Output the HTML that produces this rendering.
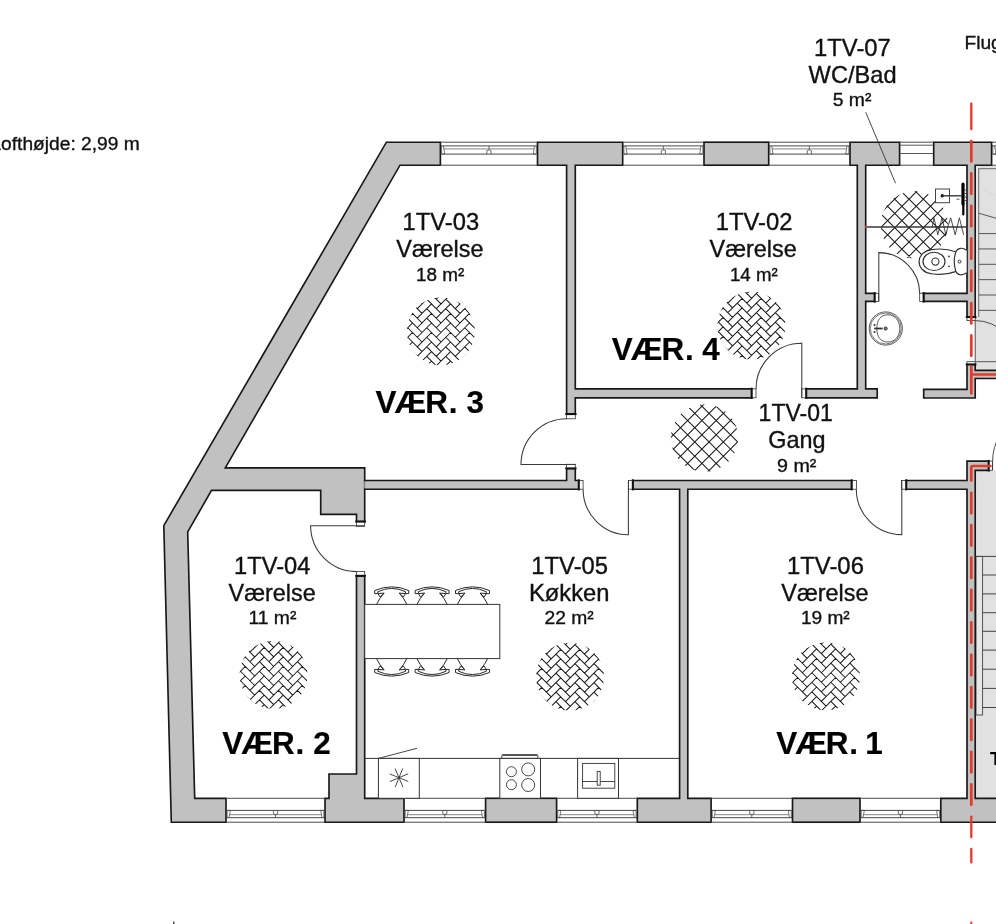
<!DOCTYPE html>
<html lang="da"><head><meta charset="utf-8"><title>Plantegning 1TV</title>
<style>
html,body{margin:0;padding:0;background:#fff;}
body{width:996px;height:924px;overflow:hidden;}
svg{display:block;will-change:transform;}
text{font-family:"Liberation Sans",sans-serif;fill:#111;stroke:#111;stroke-width:0.35px;}
text.b{font-weight:bold;fill:#000;stroke:#000;stroke-width:0.2px;}
</style></head><body>
<svg width="996" height="924" viewBox="0 0 996 924">
<rect width="996" height="924" fill="#fff"/>
<g id="stair-zone">
<rect x="975.2" y="166" width="24.8" height="204.3" fill="#e1e1e1"/>
<rect x="975.2" y="470.3" width="24.8" height="328" fill="#e1e1e1"/>
<rect x="975.6" y="166" width="2.7" height="151" fill="#ececec"/>
<line x1="978.7" y1="168.7" x2="978.7" y2="317" stroke="#6a6a6a" stroke-width="1" />
<line x1="978.2" y1="168.7" x2="1000" y2="168.7" stroke="#6a6a6a" stroke-width="1" />
<line x1="978.7" y1="213.2" x2="1000" y2="219.4" stroke="#555" stroke-width="1" />
<line x1="983.7" y1="188.6" x2="996" y2="196.8" stroke="#cfcfcf" stroke-width="0.9" stroke-dasharray="4 3"/>
<line x1="978.7" y1="233.6" x2="1000" y2="233.6" stroke="#555" stroke-width="1" />
<line x1="978.7" y1="248.95" x2="1000" y2="248.95" stroke="#555" stroke-width="1" />
<line x1="978.7" y1="264.3" x2="1000" y2="264.3" stroke="#555" stroke-width="1" />
<line x1="978.7" y1="279.65" x2="1000" y2="279.65" stroke="#555" stroke-width="1" />
<line x1="978.7" y1="295" x2="1000" y2="295" stroke="#555" stroke-width="1" />
<line x1="978.7" y1="310.35" x2="1000" y2="310.35" stroke="#555" stroke-width="1" />
<line x1="975.2" y1="361.7" x2="1000" y2="361.7" stroke="#555" stroke-width="1" />
<rect x="976" y="556.4" width="6.6" height="158.6" fill="#e6e6e6" stroke="#444" stroke-width="0.9"/>
<line x1="976" y1="556.4" x2="1000" y2="556.4" stroke="#444" stroke-width="1" />
<line x1="982.6" y1="575" x2="1000" y2="575" stroke="#444" stroke-width="1" />
<line x1="982.6" y1="593.9" x2="1000" y2="593.9" stroke="#444" stroke-width="1" />
<line x1="982.6" y1="612.7" x2="1000" y2="612.7" stroke="#444" stroke-width="1" />
<line x1="982.6" y1="631.3" x2="1000" y2="631.3" stroke="#444" stroke-width="1" />
<line x1="982.6" y1="650.1" x2="1000" y2="650.1" stroke="#444" stroke-width="1" />
<line x1="982.6" y1="669.2" x2="1000" y2="669.2" stroke="#444" stroke-width="1" />
<line x1="982.6" y1="688.4" x2="1000" y2="688.4" stroke="#444" stroke-width="1" />
<line x1="982.6" y1="707.5" x2="1000" y2="707.5" stroke="#444" stroke-width="1" />
</g>
<g id="walls">
<path d="M440.4,142.2 L386.4,142.2 L163.8,525.6 L171.3,822.2 L226,822.2 L226,798.3 L194.7,798.3 L187.7,531.9 L211.5,490.4 L320.7,490.4 L320.7,514.3 L356.5,514.3 L356.5,521.6 L364.7,521.6 L364.7,489.2 L578.8,489.2 L578.8,480.5 L575.3,480.5 L575.3,468.4 L566.6,468.4 L566.6,480.5 L364.7,480.5 L364.7,467.9 L225.3,467.9 L400,165.2 L440.4,165.2 Z" fill="#c1c1c1" stroke="#181818" stroke-width="1.65" stroke-linejoin="miter" />
<line x1="364.7" y1="480.5" x2="364.7" y2="489.2" stroke="#181818" stroke-width="1.65" />
<rect x="364.4" y="481.4" width="1.5" height="6.9" fill="#c1c1c1"/>
<rect x="704" y="142.2" width="64.7" height="23" fill="#c1c1c1" stroke="#181818" stroke-width="1.65"/>
<path d="M537.5,142.2 L622.7,142.2 L622.7,165.2 L575.3,165.2 L575.3,388.9 L751.7,388.9 L751.7,397.8 L575.3,397.8 L575.3,414.1 L566.6,414.1 L566.6,165.2 L537.5,165.2 Z" fill="#c1c1c1" stroke="#181818" stroke-width="1.65" stroke-linejoin="miter" />
<path d="M850,142.2 L899.6,142.2 L899.6,165.2 L865.7,165.2 L865.7,293.3 L874.7,293.3 L874.7,301.4 L865.7,301.4 L865.7,388.9 L877.2,388.9 L877.2,397.8 L806.2,397.8 L806.2,388.9 L857.3,388.9 L857.3,165.2 L850,165.2 Z" fill="#c1c1c1" stroke="#181818" stroke-width="1.65" stroke-linejoin="miter" />
<path d="M933.7,142.2 L991.6,142.2 L991.6,165.2 L975.2,165.2 L975.2,317.1 L967,317.1 L967,301.4 L923.6,301.4 L923.6,293.3 L967,293.3 L967,165.2 L933.7,165.2 Z" fill="#c1c1c1" stroke="#181818" stroke-width="1.65" stroke-linejoin="miter" />
<path d="M967,364.4 L967,389.3 L923.7,389.3 L923.7,398 L975.2,398 L975.2,378.5 L1000,378.5 L1000,370.3 L975.2,370.3 L975.2,364.4 Z" fill="#c1c1c1" stroke="#181818" stroke-width="1.65" stroke-linejoin="miter" />
<rect x="485.6" y="798.3" width="71" height="23.9" fill="#c1c1c1" stroke="#181818" stroke-width="1.65"/>
<rect x="792.5" y="798.3" width="67.5" height="23.9" fill="#c1c1c1" stroke="#181818" stroke-width="1.65"/>
<path d="M325,822.2 L325,798.3 L329,798.3 L329,774 L356.5,774 L356.5,575.8 L364.7,575.8 L364.7,798.3 L404,798.3 L404,822.2 Z" fill="#c1c1c1" stroke="#181818" stroke-width="1.65" stroke-linejoin="miter" />
<path d="M637.3,822.2 L637.3,798.3 L679.6,798.3 L679.6,489.2 L632.8,489.2 L632.8,480.5 L851.7,480.5 L851.7,489.2 L687.8,489.2 L687.8,798.3 L711.1,798.3 L711.1,822.2 Z" fill="#c1c1c1" stroke="#181818" stroke-width="1.65" stroke-linejoin="miter" />
<path d="M940.8,822.2 L940.8,798.3 L967,798.3 L967,489.2 L906.2,489.2 L906.2,480.5 L967,480.5 L967,461.1 L988.7,461.1 L988.7,470.3 L975.2,470.3 L975.2,798.3 L1000,798.3 L1000,822.2 Z" fill="#c1c1c1" stroke="#181818" stroke-width="1.65" stroke-linejoin="miter" />
</g>
<g id="windows">
<line x1="440.4" y1="142.2" x2="537.5" y2="142.2" stroke="#4a4a4a" stroke-width="1" />
<line x1="440.4" y1="165.2" x2="537.5" y2="165.2" stroke="#4a4a4a" stroke-width="1" />
<line x1="440.4" y1="145.9" x2="537.5" y2="145.9" stroke="#333" stroke-width="0.9" />
<line x1="443.9" y1="148.9" x2="534" y2="148.9" stroke="#666" stroke-width="0.8" />
<line x1="441.6" y1="154.1" x2="536.3" y2="154.1" stroke="#333" stroke-width="0.9" />
<path d="M441.6,145.9 L441.6,154.1 L444.7,154.1 L443.4,145.9" fill="none" stroke="#444" stroke-width="0.7" />
<path d="M536.3,145.9 L536.3,154.1 L533.2,154.1 L534.5,145.9" fill="none" stroke="#444" stroke-width="0.7" />
<path d="M488.95,145.9 L488.95,149.3 M486.85,154.1 L486.85,150.7 Q488.95,148.9 491.05,150.7 L491.05,154.1" fill="none" stroke="#333" stroke-width="0.7" />
<line x1="622.7" y1="142.2" x2="704" y2="142.2" stroke="#4a4a4a" stroke-width="1" />
<line x1="622.7" y1="165.2" x2="704" y2="165.2" stroke="#4a4a4a" stroke-width="1" />
<line x1="622.7" y1="145.9" x2="704" y2="145.9" stroke="#333" stroke-width="0.9" />
<line x1="626.2" y1="148.9" x2="700.5" y2="148.9" stroke="#666" stroke-width="0.8" />
<line x1="623.9" y1="154.1" x2="702.8" y2="154.1" stroke="#333" stroke-width="0.9" />
<path d="M623.9,145.9 L623.9,154.1 L627,154.1 L625.7,145.9" fill="none" stroke="#444" stroke-width="0.7" />
<path d="M702.8,145.9 L702.8,154.1 L699.7,154.1 L701,145.9" fill="none" stroke="#444" stroke-width="0.7" />
<path d="M663.35,145.9 L663.35,149.3 M661.25,154.1 L661.25,150.7 Q663.35,148.9 665.45,150.7 L665.45,154.1" fill="none" stroke="#333" stroke-width="0.7" />
<line x1="768.7" y1="142.2" x2="850" y2="142.2" stroke="#4a4a4a" stroke-width="1" />
<line x1="768.7" y1="165.2" x2="850" y2="165.2" stroke="#4a4a4a" stroke-width="1" />
<line x1="768.7" y1="145.9" x2="850" y2="145.9" stroke="#333" stroke-width="0.9" />
<line x1="772.2" y1="148.9" x2="846.5" y2="148.9" stroke="#666" stroke-width="0.8" />
<line x1="769.9" y1="154.1" x2="848.8" y2="154.1" stroke="#333" stroke-width="0.9" />
<path d="M769.9,145.9 L769.9,154.1 L773,154.1 L771.7,145.9" fill="none" stroke="#444" stroke-width="0.7" />
<path d="M848.8,145.9 L848.8,154.1 L845.7,154.1 L847,145.9" fill="none" stroke="#444" stroke-width="0.7" />
<path d="M809.35,145.9 L809.35,149.3 M807.25,154.1 L807.25,150.7 Q809.35,148.9 811.45,150.7 L811.45,154.1" fill="none" stroke="#333" stroke-width="0.7" />
<line x1="991.6" y1="142.2" x2="1060" y2="142.2" stroke="#4a4a4a" stroke-width="1" />
<line x1="991.6" y1="165.2" x2="1060" y2="165.2" stroke="#4a4a4a" stroke-width="1" />
<line x1="991.6" y1="145.9" x2="1060" y2="145.9" stroke="#333" stroke-width="0.9" />
<line x1="995.1" y1="148.9" x2="1056.5" y2="148.9" stroke="#666" stroke-width="0.8" />
<line x1="992.8" y1="154.1" x2="1058.8" y2="154.1" stroke="#333" stroke-width="0.9" />
<path d="M992.8,145.9 L992.8,154.1 L995.9,154.1 L994.6,145.9" fill="none" stroke="#444" stroke-width="0.7" />
<path d="M1058.8,145.9 L1058.8,154.1 L1055.7,154.1 L1057,145.9" fill="none" stroke="#444" stroke-width="0.7" />
<path d="M1025.8,145.9 L1025.8,149.3 M1023.7,154.1 L1023.7,150.7 Q1025.8,148.9 1027.9,150.7 L1027.9,154.1" fill="none" stroke="#333" stroke-width="0.7" />
<line x1="899.6" y1="142.2" x2="933.7" y2="142.2" stroke="#4a4a4a" stroke-width="1" />
<line x1="899.6" y1="165.2" x2="933.7" y2="165.2" stroke="#4a4a4a" stroke-width="1" />
<line x1="899.6" y1="145.2" x2="933.7" y2="145.2" stroke="#444" stroke-width="0.9" />
<line x1="899.6" y1="153.5" x2="933.7" y2="153.5" stroke="#444" stroke-width="0.9" />
<line x1="226" y1="822.2" x2="325" y2="822.2" stroke="#4a4a4a" stroke-width="1" />
<line x1="226" y1="798.3" x2="325" y2="798.3" stroke="#4a4a4a" stroke-width="1" />
<line x1="226" y1="817.7" x2="325" y2="817.7" stroke="#333" stroke-width="0.9" />
<line x1="229.5" y1="814.7" x2="321.5" y2="814.7" stroke="#666" stroke-width="0.8" />
<line x1="227.2" y1="810.4" x2="323.8" y2="810.4" stroke="#333" stroke-width="0.9" />
<path d="M227.2,817.7 L227.2,810.4 L230.3,810.4 L229,817.7" fill="none" stroke="#444" stroke-width="0.7" />
<path d="M323.8,817.7 L323.8,810.4 L320.7,810.4 L322,817.7" fill="none" stroke="#444" stroke-width="0.7" />
<path d="M275.5,817.7 L275.5,814.3 M273.4,810.4 L273.4,813.8 Q275.5,815.6 277.6,813.8 L277.6,810.4" fill="none" stroke="#333" stroke-width="0.7" />
<line x1="404" y1="822.2" x2="485.6" y2="822.2" stroke="#4a4a4a" stroke-width="1" />
<line x1="404" y1="798.3" x2="485.6" y2="798.3" stroke="#4a4a4a" stroke-width="1" />
<line x1="404" y1="817.7" x2="485.6" y2="817.7" stroke="#333" stroke-width="0.9" />
<line x1="407.5" y1="814.7" x2="482.1" y2="814.7" stroke="#666" stroke-width="0.8" />
<line x1="405.2" y1="810.4" x2="484.4" y2="810.4" stroke="#333" stroke-width="0.9" />
<path d="M405.2,817.7 L405.2,810.4 L408.3,810.4 L407,817.7" fill="none" stroke="#444" stroke-width="0.7" />
<path d="M484.4,817.7 L484.4,810.4 L481.3,810.4 L482.6,817.7" fill="none" stroke="#444" stroke-width="0.7" />
<path d="M444.8,817.7 L444.8,814.3 M442.7,810.4 L442.7,813.8 Q444.8,815.6 446.9,813.8 L446.9,810.4" fill="none" stroke="#333" stroke-width="0.7" />
<line x1="556.6" y1="822.2" x2="637.3" y2="822.2" stroke="#4a4a4a" stroke-width="1" />
<line x1="556.6" y1="798.3" x2="637.3" y2="798.3" stroke="#4a4a4a" stroke-width="1" />
<line x1="556.6" y1="817.7" x2="637.3" y2="817.7" stroke="#333" stroke-width="0.9" />
<line x1="560.1" y1="814.7" x2="633.8" y2="814.7" stroke="#666" stroke-width="0.8" />
<line x1="557.8" y1="810.4" x2="636.1" y2="810.4" stroke="#333" stroke-width="0.9" />
<path d="M557.8,817.7 L557.8,810.4 L560.9,810.4 L559.6,817.7" fill="none" stroke="#444" stroke-width="0.7" />
<path d="M636.1,817.7 L636.1,810.4 L633,810.4 L634.3,817.7" fill="none" stroke="#444" stroke-width="0.7" />
<path d="M596.95,817.7 L596.95,814.3 M594.85,810.4 L594.85,813.8 Q596.95,815.6 599.05,813.8 L599.05,810.4" fill="none" stroke="#333" stroke-width="0.7" />
<line x1="711.1" y1="822.2" x2="792.5" y2="822.2" stroke="#4a4a4a" stroke-width="1" />
<line x1="711.1" y1="798.3" x2="792.5" y2="798.3" stroke="#4a4a4a" stroke-width="1" />
<line x1="711.1" y1="817.7" x2="792.5" y2="817.7" stroke="#333" stroke-width="0.9" />
<line x1="714.6" y1="814.7" x2="789" y2="814.7" stroke="#666" stroke-width="0.8" />
<line x1="712.3" y1="810.4" x2="791.3" y2="810.4" stroke="#333" stroke-width="0.9" />
<path d="M712.3,817.7 L712.3,810.4 L715.4,810.4 L714.1,817.7" fill="none" stroke="#444" stroke-width="0.7" />
<path d="M791.3,817.7 L791.3,810.4 L788.2,810.4 L789.5,817.7" fill="none" stroke="#444" stroke-width="0.7" />
<path d="M751.8,817.7 L751.8,814.3 M749.7,810.4 L749.7,813.8 Q751.8,815.6 753.9,813.8 L753.9,810.4" fill="none" stroke="#333" stroke-width="0.7" />
<line x1="860" y1="822.2" x2="940.8" y2="822.2" stroke="#4a4a4a" stroke-width="1" />
<line x1="860" y1="798.3" x2="940.8" y2="798.3" stroke="#4a4a4a" stroke-width="1" />
<line x1="860" y1="817.7" x2="940.8" y2="817.7" stroke="#333" stroke-width="0.9" />
<line x1="863.5" y1="814.7" x2="937.3" y2="814.7" stroke="#666" stroke-width="0.8" />
<line x1="861.2" y1="810.4" x2="939.6" y2="810.4" stroke="#333" stroke-width="0.9" />
<path d="M861.2,817.7 L861.2,810.4 L864.3,810.4 L863,817.7" fill="none" stroke="#444" stroke-width="0.7" />
<path d="M939.6,817.7 L939.6,810.4 L936.5,810.4 L937.8,817.7" fill="none" stroke="#444" stroke-width="0.7" />
<path d="M900.4,817.7 L900.4,814.3 M898.3,810.4 L898.3,813.8 Q900.4,815.6 902.5,813.8 L902.5,810.4" fill="none" stroke="#333" stroke-width="0.7" />
</g>
<g id="doors">
<rect x="356.5" y="521.6" width="8.2" height="4.7" fill="#fff" stroke="#333" stroke-width="0.8"/>
<line x1="355.3" y1="521.6" x2="365.9" y2="521.6" stroke="#111" stroke-width="2" />
<rect x="356.5" y="571.6" width="8.2" height="4.2" fill="#fff" stroke="#333" stroke-width="0.8"/>
<line x1="355.3" y1="575.8" x2="365.9" y2="575.8" stroke="#111" stroke-width="2" />
<path d="M364.7,525.8 L310.6,525.8 A46,46 0 0 0 356.5,571.6" fill="none" stroke="#3a3a3a" stroke-width="1.05" />
<rect x="566.6" y="414.1" width="8.7" height="4.7" fill="#fff" stroke="#333" stroke-width="0.8"/>
<line x1="565.4" y1="414.1" x2="576.5" y2="414.1" stroke="#111" stroke-width="2" />
<rect x="566.6" y="464.3" width="8.7" height="4.1" fill="#fff" stroke="#333" stroke-width="0.8"/>
<line x1="565.4" y1="468.4" x2="576.5" y2="468.4" stroke="#111" stroke-width="2" />
<path d="M575.3,464.4 L521,464.4 A45.8,45.8 0 0 1 566.6,418.8" fill="none" stroke="#3a3a3a" stroke-width="1.05" />
<rect x="578.8" y="480.5" width="4.3" height="8.7" fill="#fff" stroke="#333" stroke-width="0.8"/>
<line x1="578.8" y1="479.3" x2="578.8" y2="490.4" stroke="#111" stroke-width="2" />
<rect x="628.4" y="480.5" width="4.4" height="8.7" fill="#fff" stroke="#333" stroke-width="0.8"/>
<line x1="632.8" y1="479.3" x2="632.8" y2="490.4" stroke="#111" stroke-width="2" />
<path d="M628.4,480.5 L628.4,534.8 A45.5,45.5 0 0 1 583.1,489.2" fill="none" stroke="#3a3a3a" stroke-width="1.05" />
<rect x="751.7" y="388.9" width="4.3" height="8.9" fill="#fff" stroke="#333" stroke-width="0.8"/>
<line x1="751.7" y1="387.7" x2="751.7" y2="399" stroke="#111" stroke-width="2" />
<rect x="801.7" y="388.9" width="4.5" height="8.9" fill="#fff" stroke="#333" stroke-width="0.8"/>
<line x1="806.2" y1="387.7" x2="806.2" y2="399" stroke="#111" stroke-width="2" />
<path d="M801.8,397.8 L801.8,343.2 A45.8,45.8 0 0 0 756,388.9" fill="none" stroke="#3a3a3a" stroke-width="1.05" />
<rect x="851.7" y="480.5" width="4.7" height="8.7" fill="#fff" stroke="#333" stroke-width="0.8"/>
<line x1="851.7" y1="479.3" x2="851.7" y2="490.4" stroke="#111" stroke-width="2" />
<rect x="901.6" y="480.5" width="4.6" height="8.7" fill="#fff" stroke="#333" stroke-width="0.8"/>
<line x1="906.2" y1="479.3" x2="906.2" y2="490.4" stroke="#111" stroke-width="2" />
<path d="M901.8,480.5 L901.8,534.6 A45.5,45.5 0 0 1 856.3,489.2" fill="none" stroke="#3a3a3a" stroke-width="1.05" />
<rect x="874.7" y="293.3" width="4" height="8.1" fill="#fff" stroke="#333" stroke-width="0.8"/>
<line x1="874.7" y1="292.1" x2="874.7" y2="302.6" stroke="#111" stroke-width="2" />
<rect x="919.7" y="293.3" width="3.9" height="8.1" fill="#fff" stroke="#333" stroke-width="0.8"/>
<line x1="923.6" y1="292.1" x2="923.6" y2="302.6" stroke="#111" stroke-width="2" />
<path d="M878.8,301.4 L878.8,252.6 A41,41 0 0 1 919.7,293.3" fill="none" stroke="#3a3a3a" stroke-width="1.05" />
<rect x="967" y="317.1" width="8.2" height="3.5" fill="#fff" stroke="#333" stroke-width="0.8"/>
<line x1="965.8" y1="317.1" x2="976.4" y2="317.1" stroke="#111" stroke-width="2" />
<rect x="967" y="361.7" width="8.2" height="2.7" fill="#fff" stroke="#333" stroke-width="0.8"/>
<line x1="965.8" y1="364.4" x2="976.4" y2="364.4" stroke="#111" stroke-width="2" />
<path d="M975.2,361.7 L975.2,320.6 A41.1,41.1 0 0 1 1005,333.6" fill="none" stroke="#3a3a3a" stroke-width="0.9" />
<rect x="988.7" y="461.1" width="3.8" height="9.2" fill="#fff" stroke="#333" stroke-width="0.8"/>
<line x1="988.7" y1="459.9" x2="988.7" y2="471.5" stroke="#111" stroke-width="2" />
<path d="M992.6,470 L992.6,461 Q992.6,448 1000,434" fill="none" stroke="#3a3a3a" stroke-width="0.9" />
</g>
<g id="kitchen">
<rect x="364.7" y="604.4" width="135.1" height="54.2" fill="#fff" stroke="#333" stroke-width="1"/>
<line x1="364.7" y1="758.4" x2="679.6" y2="758.4" stroke="#333" stroke-width="1" />
<rect x="378.4" y="758.4" width="40.9" height="39.9" fill="#fff" stroke="#333" stroke-width="1"/>
<line x1="378.4" y1="758.4" x2="417" y2="748.3" stroke="#333" stroke-width="0.9" />
<line x1="389.73" y1="773.95" x2="408.27" y2="781.45" stroke="#333" stroke-width="0.9" />
<line x1="395.09" y1="768.49" x2="402.91" y2="786.91" stroke="#333" stroke-width="0.9" />
<line x1="402.75" y1="768.43" x2="395.25" y2="786.97" stroke="#333" stroke-width="0.9" />
<line x1="408.21" y1="773.79" x2="389.79" y2="781.61" stroke="#333" stroke-width="0.9" />
<rect x="499.8" y="758.4" width="40.7" height="39.9" fill="#fff" stroke="#333" stroke-width="1"/>
<path d="M501.9,758.4 L501.9,755.6 Q501.9,754.6 503,754.6 L536.8,754.6 Q537.8,754.6 537.8,755.6 L537.8,758.4" fill="none" stroke="#333" stroke-width="0.9" />
<line x1="502.5" y1="755.4" x2="537.3" y2="755.4" stroke="#555" stroke-width="1.3" />
<circle cx="511.4" cy="771.7" r="5" fill="none" stroke="#333" stroke-width="0.9"/>
<circle cx="528.2" cy="769.4" r="6.5" fill="none" stroke="#333" stroke-width="0.9"/>
<circle cx="511.4" cy="784.7" r="5" fill="none" stroke="#333" stroke-width="0.9"/>
<circle cx="528.2" cy="785" r="6.5" fill="none" stroke="#333" stroke-width="0.9"/>
<rect x="577.6" y="758.4" width="40.9" height="39.9" fill="#fff" stroke="#333" stroke-width="1"/>
<rect x="582.6" y="763.4" width="32.2" height="24.8" fill="#fff" stroke="#333" stroke-width="0.9"/>
<line x1="582.6" y1="781.5" x2="614.8" y2="781.5" stroke="#333" stroke-width="0.9" />
<rect x="597.2" y="771.4" width="3" height="13.8" fill="#fff" stroke="#333" stroke-width="0.9"/>
<path d="M377.9,593.6 L374.7,593.6 L374.7,590.5 Q391.7,583.2 408.7,590.5 L408.7,593.6 L405.5,593.6 M377.9,593.6 L377.9,591.7 Q391.7,585.1 405.5,591.7 L405.5,593.6 M377.9,593.6 L384.1,593.1 L380.1,597 Z M405.5,593.6 L399.3,593.1 L403.3,597 Z M384.1,593.1 Q378.9,598.9 376.6,604.4 M399.3,593.1 Q404.5,598.9 406.8,604.4 " fill="none" stroke="#2a2a2a" stroke-width="1" />
<path d="M377.9,669.4 L374.7,669.4 L374.7,672.5 Q391.7,679.8 408.7,672.5 L408.7,669.4 L405.5,669.4 M377.9,669.4 L377.9,671.3 Q391.7,677.9 405.5,671.3 L405.5,669.4 M377.9,669.4 L384.1,669.9 L380.1,666 Z M405.5,669.4 L399.3,669.9 L403.3,666 Z M384.1,669.9 Q378.9,664.1 376.6,658.6 M399.3,669.9 Q404.5,664.1 406.8,658.6 " fill="none" stroke="#2a2a2a" stroke-width="1" />
<path d="M418.3,593.6 L415.1,593.6 L415.1,590.5 Q432.1,583.2 449.1,590.5 L449.1,593.6 L445.9,593.6 M418.3,593.6 L418.3,591.7 Q432.1,585.1 445.9,591.7 L445.9,593.6 M418.3,593.6 L424.5,593.1 L420.5,597 Z M445.9,593.6 L439.7,593.1 L443.7,597 Z M424.5,593.1 Q419.3,598.9 417,604.4 M439.7,593.1 Q444.9,598.9 447.2,604.4 " fill="none" stroke="#2a2a2a" stroke-width="1" />
<path d="M418.3,669.4 L415.1,669.4 L415.1,672.5 Q432.1,679.8 449.1,672.5 L449.1,669.4 L445.9,669.4 M418.3,669.4 L418.3,671.3 Q432.1,677.9 445.9,671.3 L445.9,669.4 M418.3,669.4 L424.5,669.9 L420.5,666 Z M445.9,669.4 L439.7,669.9 L443.7,666 Z M424.5,669.9 Q419.3,664.1 417,658.6 M439.7,669.9 Q444.9,664.1 447.2,658.6 " fill="none" stroke="#2a2a2a" stroke-width="1" />
<path d="M458.7,593.6 L455.5,593.6 L455.5,590.5 Q472.5,583.2 489.5,590.5 L489.5,593.6 L486.3,593.6 M458.7,593.6 L458.7,591.7 Q472.5,585.1 486.3,591.7 L486.3,593.6 M458.7,593.6 L464.9,593.1 L460.9,597 Z M486.3,593.6 L480.1,593.1 L484.1,597 Z M464.9,593.1 Q459.7,598.9 457.4,604.4 M480.1,593.1 Q485.3,598.9 487.6,604.4 " fill="none" stroke="#2a2a2a" stroke-width="1" />
<path d="M458.7,669.4 L455.5,669.4 L455.5,672.5 Q472.5,679.8 489.5,672.5 L489.5,669.4 L486.3,669.4 M458.7,669.4 L458.7,671.3 Q472.5,677.9 486.3,671.3 L486.3,669.4 M458.7,669.4 L464.9,669.9 L460.9,666 Z M486.3,669.4 L480.1,669.9 L484.1,666 Z M464.9,669.9 Q459.7,664.1 457.4,658.6 M480.1,669.9 Q485.3,664.1 487.6,658.6 " fill="none" stroke="#2a2a2a" stroke-width="1" />
</g>
<g id="floor-symbols">
<clipPath id="c1"><circle cx="440.8" cy="331.3" r="34"/></clipPath>
<path d="M464.76,299.24L479.02,313.49M445.76,289.73L460.01,303.99M464.76,308.74L479.02,323M426.75,280.23L441,294.49M445.76,299.24L460.01,313.49M431.5,284.98L417.24,299.24M464.76,318.24L479.02,332.5M412.49,303.99L398.24,318.24M426.75,289.73L441,303.99M445.76,308.74L460.01,323M431.5,294.49L417.24,308.74M464.76,327.75L479.02,342M412.49,313.49L398.24,327.75M426.75,299.24L441,313.49M450.51,284.98L436.25,299.24M445.76,318.24L460.01,332.5M431.5,303.99L417.24,318.24M464.76,337.25L479.02,351.51M412.49,323L398.24,337.25M407.74,289.73L422,303.99M426.75,308.74L441,323M450.51,294.49L436.25,308.74M445.76,327.75L460.01,342M431.5,313.49L417.24,327.75M464.76,346.76L479.02,361.01M412.49,332.5L398.24,346.76M407.74,299.24L422,313.49M469.51,284.98L455.26,299.24M426.75,318.24L441,332.5M450.51,303.99L436.25,318.24M445.76,337.25L460.01,351.51M431.5,323L417.24,337.25M464.76,356.26L479.02,370.51M412.49,342L398.24,356.26M407.74,308.74L422,323M469.51,294.49L455.26,308.74M426.75,327.75L441,342M450.51,313.49L436.25,327.75M445.76,346.76L460.01,361.01M431.5,332.5L417.24,346.76M407.74,318.24L422,332.5M469.51,303.99L455.26,318.24M426.75,337.25L441,351.51M450.51,323L436.25,337.25M445.76,356.26L460.01,370.51M431.5,342L417.24,356.26M407.74,327.75L422,342M469.51,313.49L455.26,327.75M426.75,346.76L441,361.01M450.51,332.5L436.25,346.76M445.76,365.76L460.01,380.02M431.5,351.51L417.24,365.76M407.74,337.25L422,351.51M469.51,323L455.26,337.25M426.75,356.26L441,370.51M450.51,342L436.25,356.26M431.5,361.01L417.24,375.27M488.52,313.49L474.27,327.75M407.74,346.76L422,361.01M469.51,332.5L455.26,346.76M426.75,365.76L441,380.02M450.51,351.51L436.25,365.76M488.52,323L474.27,337.25M407.74,356.26L422,370.51M469.51,342L455.26,356.26M450.51,361.01L436.25,375.27M488.52,332.5L474.27,346.76M469.51,351.51L455.26,365.76M488.52,342L474.27,356.26M469.51,361.01L455.26,375.27" fill="none" stroke="#1a1a1a" stroke-width="1.05" clip-path="url(#c1)"/>
<clipPath id="c2"><circle cx="751.4" cy="325.6" r="34"/></clipPath>
<path d="M775.36,293.54L789.62,307.79M756.36,284.03L770.61,298.29M775.36,303.04L789.62,317.3M737.35,274.53L751.6,288.79M756.36,293.54L770.61,307.79M742.1,279.28L727.84,293.54M775.36,312.54L789.62,326.8M723.09,298.29L708.84,312.54M737.35,284.03L751.6,298.29M756.36,303.04L770.61,317.3M742.1,288.79L727.84,303.04M775.36,322.05L789.62,336.3M723.09,307.79L708.84,322.05M737.35,293.54L751.6,307.79M761.11,279.28L746.85,293.54M756.36,312.54L770.61,326.8M742.1,298.29L727.84,312.54M775.36,331.55L789.62,345.81M723.09,317.3L708.84,331.55M718.34,284.03L732.6,298.29M737.35,303.04L751.6,317.3M761.11,288.79L746.85,303.04M756.36,322.05L770.61,336.3M742.1,307.79L727.84,322.05M775.36,341.06L789.62,355.31M723.09,326.8L708.84,341.06M718.34,293.54L732.6,307.79M780.11,279.28L765.86,293.54M737.35,312.54L751.6,326.8M761.11,298.29L746.85,312.54M756.36,331.55L770.61,345.81M742.1,317.3L727.84,331.55M775.36,350.56L789.62,364.81M723.09,336.3L708.84,350.56M718.34,303.04L732.6,317.3M780.11,288.79L765.86,303.04M737.35,322.05L751.6,336.3M761.11,307.79L746.85,322.05M756.36,341.06L770.61,355.31M742.1,326.8L727.84,341.06M718.34,312.54L732.6,326.8M780.11,298.29L765.86,312.54M737.35,331.55L751.6,345.81M761.11,317.3L746.85,331.55M756.36,350.56L770.61,364.81M742.1,336.3L727.84,350.56M718.34,322.05L732.6,336.3M780.11,307.79L765.86,322.05M737.35,341.06L751.6,355.31M761.11,326.8L746.85,341.06M756.36,360.06L770.61,374.32M742.1,345.81L727.84,360.06M718.34,331.55L732.6,345.81M780.11,317.3L765.86,331.55M737.35,350.56L751.6,364.81M761.11,336.3L746.85,350.56M742.1,355.31L727.84,369.57M799.12,307.79L784.87,322.05M718.34,341.06L732.6,355.31M780.11,326.8L765.86,341.06M737.35,360.06L751.6,374.32M761.11,345.81L746.85,360.06M799.12,317.3L784.87,331.55M718.34,350.56L732.6,364.81M780.11,336.3L765.86,350.56M761.11,355.31L746.85,369.57M799.12,326.8L784.87,341.06M780.11,345.81L765.86,360.06M799.12,336.3L784.87,350.56M780.11,355.31L765.86,369.57" fill="none" stroke="#1a1a1a" stroke-width="1.05" clip-path="url(#c2)"/>
<clipPath id="c3"><circle cx="273.5" cy="674.8" r="34"/></clipPath>
<path d="M297.46,642.74L311.72,656.99M278.46,633.23L292.71,647.49M297.46,652.24L311.72,666.5M259.45,623.73L273.7,637.99M278.46,642.74L292.71,656.99M264.2,628.48L249.94,642.74M297.46,661.74L311.72,676M245.19,647.49L230.94,661.74M259.45,633.23L273.7,647.49M278.46,652.24L292.71,666.5M264.2,637.99L249.94,652.24M297.46,671.25L311.72,685.5M245.19,656.99L230.94,671.25M259.45,642.74L273.7,656.99M283.21,628.48L268.95,642.74M278.46,661.74L292.71,676M264.2,647.49L249.94,661.74M297.46,680.75L311.72,695.01M245.19,666.5L230.94,680.75M240.44,633.23L254.7,647.49M259.45,652.24L273.7,666.5M283.21,637.99L268.95,652.24M278.46,671.25L292.71,685.5M264.2,656.99L249.94,671.25M297.46,690.26L311.72,704.51M245.19,676L230.94,690.26M240.44,642.74L254.7,656.99M302.21,628.48L287.96,642.74M259.45,661.74L273.7,676M283.21,647.49L268.95,661.74M278.46,680.75L292.71,695.01M264.2,666.5L249.94,680.75M297.46,699.76L311.72,714.01M245.19,685.5L230.94,699.76M240.44,652.24L254.7,666.5M302.21,637.99L287.96,652.24M259.45,671.25L273.7,685.5M283.21,656.99L268.95,671.25M278.46,690.26L292.71,704.51M264.2,676L249.94,690.26M240.44,661.74L254.7,676M302.21,647.49L287.96,661.74M259.45,680.75L273.7,695.01M283.21,666.5L268.95,680.75M278.46,699.76L292.71,714.01M264.2,685.5L249.94,699.76M240.44,671.25L254.7,685.5M302.21,656.99L287.96,671.25M259.45,690.26L273.7,704.51M283.21,676L268.95,690.26M278.46,709.26L292.71,723.52M264.2,695.01L249.94,709.26M240.44,680.75L254.7,695.01M302.21,666.5L287.96,680.75M259.45,699.76L273.7,714.01M283.21,685.5L268.95,699.76M264.2,704.51L249.94,718.77M321.22,656.99L306.97,671.25M240.44,690.26L254.7,704.51M302.21,676L287.96,690.26M259.45,709.26L273.7,723.52M283.21,695.01L268.95,709.26M321.22,666.5L306.97,680.75M240.44,699.76L254.7,714.01M302.21,685.5L287.96,699.76M283.21,704.51L268.95,718.77M321.22,676L306.97,690.26M302.21,695.01L287.96,709.26M321.22,685.5L306.97,699.76M302.21,704.51L287.96,718.77" fill="none" stroke="#1a1a1a" stroke-width="1.05" clip-path="url(#c3)"/>
<clipPath id="c4"><circle cx="570" cy="676.7" r="34"/></clipPath>
<path d="M593.96,644.64L608.22,658.89M574.96,635.13L589.21,649.39M593.96,654.14L608.22,668.4M555.95,625.63L570.2,639.89M574.96,644.64L589.21,658.89M560.7,630.38L546.44,644.64M593.96,663.64L608.22,677.9M541.69,649.39L527.44,663.64M555.95,635.13L570.2,649.39M574.96,654.14L589.21,668.4M560.7,639.89L546.44,654.14M593.96,673.15L608.22,687.4M541.69,658.89L527.44,673.15M555.95,644.64L570.2,658.89M579.71,630.38L565.45,644.64M574.96,663.64L589.21,677.9M560.7,649.39L546.44,663.64M593.96,682.65L608.22,696.91M541.69,668.4L527.44,682.65M536.94,635.13L551.2,649.39M555.95,654.14L570.2,668.4M579.71,639.89L565.45,654.14M574.96,673.15L589.21,687.4M560.7,658.89L546.44,673.15M593.96,692.16L608.22,706.41M541.69,677.9L527.44,692.16M536.94,644.64L551.2,658.89M598.71,630.38L584.46,644.64M555.95,663.64L570.2,677.9M579.71,649.39L565.45,663.64M574.96,682.65L589.21,696.91M560.7,668.4L546.44,682.65M593.96,701.66L608.22,715.91M541.69,687.4L527.44,701.66M536.94,654.14L551.2,668.4M598.71,639.89L584.46,654.14M555.95,673.15L570.2,687.4M579.71,658.89L565.45,673.15M574.96,692.16L589.21,706.41M560.7,677.9L546.44,692.16M536.94,663.64L551.2,677.9M598.71,649.39L584.46,663.64M555.95,682.65L570.2,696.91M579.71,668.4L565.45,682.65M574.96,701.66L589.21,715.91M560.7,687.4L546.44,701.66M536.94,673.15L551.2,687.4M598.71,658.89L584.46,673.15M555.95,692.16L570.2,706.41M579.71,677.9L565.45,692.16M574.96,711.16L589.21,725.42M560.7,696.91L546.44,711.16M536.94,682.65L551.2,696.91M598.71,668.4L584.46,682.65M555.95,701.66L570.2,715.91M579.71,687.4L565.45,701.66M560.7,706.41L546.44,720.67M617.72,658.89L603.47,673.15M536.94,692.16L551.2,706.41M598.71,677.9L584.46,692.16M555.95,711.16L570.2,725.42M579.71,696.91L565.45,711.16M617.72,668.4L603.47,682.65M536.94,701.66L551.2,715.91M598.71,687.4L584.46,701.66M579.71,706.41L565.45,720.67M617.72,677.9L603.47,692.16M598.71,696.91L584.46,711.16M617.72,687.4L603.47,701.66M598.71,706.41L584.46,720.67" fill="none" stroke="#1a1a1a" stroke-width="1.05" clip-path="url(#c4)"/>
<clipPath id="c5"><circle cx="825.9" cy="676.3" r="34"/></clipPath>
<path d="M849.86,644.24L864.12,658.49M830.86,634.73L845.11,648.99M849.86,653.74L864.12,668M811.85,625.23L826.1,639.49M830.86,644.24L845.11,658.49M816.6,629.98L802.34,644.24M849.86,663.24L864.12,677.5M797.59,648.99L783.34,663.24M811.85,634.73L826.1,648.99M830.86,653.74L845.11,668M816.6,639.49L802.34,653.74M849.86,672.75L864.12,687M797.59,658.49L783.34,672.75M811.85,644.24L826.1,658.49M835.61,629.98L821.35,644.24M830.86,663.24L845.11,677.5M816.6,648.99L802.34,663.24M849.86,682.25L864.12,696.51M797.59,668L783.34,682.25M792.84,634.73L807.1,648.99M811.85,653.74L826.1,668M835.61,639.49L821.35,653.74M830.86,672.75L845.11,687M816.6,658.49L802.34,672.75M849.86,691.76L864.12,706.01M797.59,677.5L783.34,691.76M792.84,644.24L807.1,658.49M854.61,629.98L840.36,644.24M811.85,663.24L826.1,677.5M835.61,648.99L821.35,663.24M830.86,682.25L845.11,696.51M816.6,668L802.34,682.25M849.86,701.26L864.12,715.51M797.59,687L783.34,701.26M792.84,653.74L807.1,668M854.61,639.49L840.36,653.74M811.85,672.75L826.1,687M835.61,658.49L821.35,672.75M830.86,691.76L845.11,706.01M816.6,677.5L802.34,691.76M792.84,663.24L807.1,677.5M854.61,648.99L840.36,663.24M811.85,682.25L826.1,696.51M835.61,668L821.35,682.25M830.86,701.26L845.11,715.51M816.6,687L802.34,701.26M792.84,672.75L807.1,687M854.61,658.49L840.36,672.75M811.85,691.76L826.1,706.01M835.61,677.5L821.35,691.76M830.86,710.76L845.11,725.02M816.6,696.51L802.34,710.76M792.84,682.25L807.1,696.51M854.61,668L840.36,682.25M811.85,701.26L826.1,715.51M835.61,687L821.35,701.26M816.6,706.01L802.34,720.27M873.62,658.49L859.37,672.75M792.84,691.76L807.1,706.01M854.61,677.5L840.36,691.76M811.85,710.76L826.1,725.02M835.61,696.51L821.35,710.76M873.62,668L859.37,682.25M792.84,701.26L807.1,715.51M854.61,687L840.36,701.26M835.61,706.01L821.35,720.27M873.62,677.5L859.37,691.76M854.61,696.51L840.36,710.76M873.62,687L859.37,701.26M854.61,706.01L840.36,720.27" fill="none" stroke="#1a1a1a" stroke-width="1.05" clip-path="url(#c5)"/>
<clipPath id="c6"><circle cx="704.5" cy="438" r="33.7"/></clipPath>
<path d="M649.62,458.52L725.02,383.12M645.67,421.43L721.07,496.83M656.76,465.66L732.16,390.26M652.82,414.28L728.22,489.68M663.9,472.8L739.3,397.4M659.96,407.14L735.36,482.54M671.04,479.94L746.44,404.54M667.1,400L742.5,475.4M678.18,487.08L753.58,411.68M674.24,392.86L749.64,468.26M685.33,494.23L760.73,418.83M681.38,385.72L756.78,461.12M688.53,378.57L763.93,453.97" fill="none" stroke="#1a1a1a" stroke-width="1.05" clip-path="url(#c6)"/>
<clipPath id="c7"><circle cx="914.3" cy="224.8" r="33.7"/></clipPath>
<path d="M853.97,239.87L929.37,164.47M861.12,247.02L936.52,171.62M858.23,205.47L933.63,280.87M868.26,254.16L943.66,178.76M865.37,198.33L940.77,273.73M875.4,261.3L950.8,185.9M872.51,191.19L947.91,266.59M882.54,268.44L957.94,193.04M879.65,184.05L955.05,259.45M889.68,275.58L965.08,200.18M886.8,176.9L962.2,252.3M896.83,282.73L972.23,207.33M893.94,169.76L969.34,245.16" fill="none" stroke="#1a1a1a" stroke-width="1.05" clip-path="url(#c7)"/>
</g>
<g id="wc">
<line x1="865.7" y1="226.9" x2="967" y2="226.9" stroke="#383838" stroke-width="1.5" />
<circle cx="866" cy="226.9" r="1.1" fill="#e33"/>
<path d="M932.2,227 L934,217.8 L937.8,234.8 L942,217.8 L945.8,234.8 L948,226 L950.7,217.8 L955.2,234.8 L959.4,217.8 L963.6,234.8" fill="none" stroke="#222" stroke-width="0.8" />
<rect x="935.5" y="189" width="14" height="13.7" fill="#fff" stroke="#444" stroke-width="1"/>
<circle cx="942.3" cy="195.8" r="1.7" fill="#111"/>
<line x1="942.3" y1="195.8" x2="961.5" y2="195.8" stroke="#444" stroke-width="1.5" />
<line x1="956.5" y1="199.2" x2="959.5" y2="199.2" stroke="#555" stroke-width="1" />
<path d="M963,184 L963,204" fill="none" stroke="#000" stroke-width="3.2" stroke-linecap="round"/>
<path d="M963.3,204 L963.3,214.5" fill="none" stroke="#000" stroke-width="2.2" stroke-linecap="round"/>
<path d="M964.5,190 h2.2 M964.5,193.5 h2.2 M964.5,197 h2.2 M964.5,200.5 h2.2" fill="none" stroke="#333" stroke-width="0.9" />
<path d="M956.3,252 C947,248.5 938,248.6 931.5,249.6 C923.5,250.8 919.1,256 919.1,261.7 C919.1,267.5 923.5,272.6 931.5,273.8 C938,274.8 947,275 956.3,271.4" fill="#fff" stroke="#303030" stroke-width="1.15" />
<ellipse cx="934" cy="261.4" rx="11" ry="9.1" fill="none" stroke="#303030" stroke-width="1.15"/>
<circle cx="935.4" cy="261.6" r="3.6" fill="none" stroke="#303030" stroke-width="1.1"/>
<path d="M966.6,250.3 C962.5,247.3 957.5,247.5 955.8,252 C953.8,258 953.8,265 955.8,271.2 C957.5,275.6 962.5,275.8 966.6,272.8" fill="#fff" stroke="#303030" stroke-width="1.15" />
<circle cx="959.5" cy="261.6" r="1.5" fill="none" stroke="#303030" stroke-width="1"/>
<circle cx="949" cy="256.4" r="0.9" fill="#333"/><circle cx="949" cy="266.3" r="0.9" fill="#333"/>
<circle cx="885.8" cy="328.5" r="16.6" fill="#fff" stroke="#4a4a4a" stroke-width="0.9"/>
<circle cx="885.8" cy="328.5" r="15.5" fill="none" stroke="#5a5a5a" stroke-width="0.8"/>
<path d="M888,314.8 C895,314.8 899.8,321 899.8,328.4 C899.8,336 895,342 888,342 C880.5,342 876.8,337 876.8,328.4 C876.8,320 880.5,314.8 888,314.8 Z" fill="none" stroke="#4a4a4a" stroke-width="0.9" />
<circle cx="885.65" cy="328.5" r="1.6" fill="#777" stroke="#333" stroke-width="0.9"/>
<line x1="874.2" y1="328.5" x2="882.6" y2="328.5" stroke="#333" stroke-width="1.8" />
<circle cx="874.5" cy="324.9" r="1" fill="#333"/><circle cx="874.5" cy="332.1" r="1" fill="#333"/>
</g>
<g id="escape-line">
<line x1="971.3" y1="103.55" x2="971.3" y2="129.35" stroke="#e6382b" stroke-width="2.3" stroke-linecap="round"/>
<line x1="971.3" y1="141.05" x2="971.3" y2="161.45" stroke="#e6382b" stroke-width="2.7" stroke-linecap="round"/>
<line x1="971.3" y1="173.45" x2="971.3" y2="193.85" stroke="#e6382b" stroke-width="2.7" stroke-linecap="round"/>
<line x1="971.3" y1="205.85" x2="971.3" y2="226.25" stroke="#e6382b" stroke-width="2.7" stroke-linecap="round"/>
<line x1="971.3" y1="238.25" x2="971.3" y2="258.65" stroke="#e6382b" stroke-width="2.7" stroke-linecap="round"/>
<line x1="971.3" y1="270.65" x2="971.3" y2="291.05" stroke="#e6382b" stroke-width="2.7" stroke-linecap="round"/>
<line x1="971.3" y1="303.05" x2="971.3" y2="323.45" stroke="#e6382b" stroke-width="2.7" stroke-linecap="round"/>
<line x1="971.3" y1="335.45" x2="971.3" y2="355.85" stroke="#e6382b" stroke-width="2.7" stroke-linecap="round"/>
<path d="M971.3,367 L971.3,393.4 M971.3,374.5 L1000,374.5" fill="none" stroke="#e6382b" stroke-width="2.7" stroke-linecap="round"/>
<path d="M990.4,466 L972.8,466 Q971.3,466 971.3,467.5 L971.3,480.4" fill="none" stroke="#e6382b" stroke-width="2.7" stroke-linecap="round"/>
<line x1="971.3" y1="492.75" x2="971.3" y2="513.15" stroke="#e6382b" stroke-width="2.7" stroke-linecap="round"/>
<line x1="971.3" y1="525.15" x2="971.3" y2="545.55" stroke="#e6382b" stroke-width="2.7" stroke-linecap="round"/>
<line x1="971.3" y1="557.55" x2="971.3" y2="577.95" stroke="#e6382b" stroke-width="2.7" stroke-linecap="round"/>
<line x1="971.3" y1="589.95" x2="971.3" y2="610.35" stroke="#e6382b" stroke-width="2.7" stroke-linecap="round"/>
<line x1="971.3" y1="622.35" x2="971.3" y2="642.75" stroke="#e6382b" stroke-width="2.7" stroke-linecap="round"/>
<line x1="971.3" y1="654.75" x2="971.3" y2="675.15" stroke="#e6382b" stroke-width="2.7" stroke-linecap="round"/>
<line x1="971.3" y1="687.15" x2="971.3" y2="707.55" stroke="#e6382b" stroke-width="2.7" stroke-linecap="round"/>
<line x1="971.3" y1="719.55" x2="971.3" y2="739.95" stroke="#e6382b" stroke-width="2.7" stroke-linecap="round"/>
<line x1="971.3" y1="751.95" x2="971.3" y2="772.35" stroke="#e6382b" stroke-width="2.7" stroke-linecap="round"/>
<line x1="971.3" y1="784.35" x2="971.3" y2="804.75" stroke="#e6382b" stroke-width="2.7" stroke-linecap="round"/>
<line x1="971.3" y1="816.55" x2="971.3" y2="837.35" stroke="#e6382b" stroke-width="2.3" stroke-linecap="round"/>
<line x1="971.3" y1="848.95" x2="971.3" y2="862.45" stroke="#e6382b" stroke-width="2.3" stroke-linecap="round"/>
<line x1="971.3" y1="921.6" x2="971.3" y2="926" stroke="#e6382b" stroke-width="2" />
<line x1="173.8" y1="921.6" x2="173.8" y2="926" stroke="#222" stroke-width="1.2" />
</g>
<line x1="865.7" y1="112.2" x2="895.5" y2="183.2" stroke="#333" stroke-width="0.9" />
<g id="labels">
<text x="402.55" y="230.40" font-size="23.40" textLength="76.55" lengthAdjust="spacingAndGlyphs">1TV-03</text>
<text x="396.32" y="257.30" font-size="23.40">Værelse</text>
<text x="415.94" y="280.60" font-size="18.70" textLength="48.32" lengthAdjust="spacingAndGlyphs">18 m²</text>
<text x="715.74" y="230.40" font-size="23.40" textLength="76.80" lengthAdjust="spacingAndGlyphs">1TV-02</text>
<text x="709.62" y="257.30" font-size="23.40">Værelse</text>
<text x="729.95" y="280.60" font-size="18.70">14 m²</text>
<text x="234.06" y="573.90" font-size="23.40" textLength="76.30" lengthAdjust="spacingAndGlyphs">1TV-04</text>
<text x="228.62" y="600.50" font-size="23.40">Værelse</text>
<text x="248.40" y="623.60" font-size="18.70" textLength="47.97" lengthAdjust="spacingAndGlyphs">11 m²</text>
<text x="531.35" y="573.90" font-size="23.40" textLength="76.65" lengthAdjust="spacingAndGlyphs">1TV-05</text>
<text x="528.95" y="600.50" font-size="23.40" textLength="80.53" lengthAdjust="spacingAndGlyphs">Køkken</text>
<text x="544.49" y="623.60" font-size="18.70" textLength="49.28" lengthAdjust="spacingAndGlyphs">22 m²</text>
<text x="787.04" y="573.90" font-size="23.40" textLength="76.86" lengthAdjust="spacingAndGlyphs">1TV-06</text>
<text x="781.32" y="600.50" font-size="23.40">Værelse</text>
<text x="800.92" y="623.60" font-size="18.70" textLength="48.84" lengthAdjust="spacingAndGlyphs">19 m²</text>
<text x="758.61" y="420.90" font-size="23.40" textLength="74.08" lengthAdjust="spacingAndGlyphs">1TV-01</text>
<text x="768.28" y="447.50" font-size="23.40">Gang</text>
<text x="776.97" y="471.60" font-size="18.70" textLength="39.38" lengthAdjust="spacingAndGlyphs">9 m²</text>
<text x="814.04" y="56.40" font-size="23.40" textLength="76.80" lengthAdjust="spacingAndGlyphs">1TV-07</text>
<text x="808.61" y="82.50" font-size="23.40" textLength="87.93" lengthAdjust="spacingAndGlyphs">WC/Bad</text>
<text x="832.68" y="106.10" font-size="18.70" textLength="38.66" lengthAdjust="spacingAndGlyphs">5 m²</text>
<text x="375.44 394.79 425.14 448.64 457.44 466.54" y="413.20" font-size="31.4" class="b">VÆR. 3</text>
<text x="611.74 631.09 661.44 684.94 693.74 702.34" y="359.90" font-size="31.4" class="b">VÆR. 4</text>
<text x="222.24 241.59 271.94 295.44 304.24 313.34" y="753.90" font-size="31.4" class="b">VÆR. 2</text>
<text x="776.14 795.49 825.84 849.34 858.14 865.14" y="753.50" font-size="31.4" class="b">VÆR. 1</text>
<text x="-9.57" y="149.5" font-size="19.2">Lofthøjde: 2,99 m</text>
<text x="964.46" y="48.9" font-size="19.2">Flugtvej</text>
<text x="989.9" y="764.9" font-size="19.2" class="b">Trappe</text>
</g>
</svg>
</body></html>
